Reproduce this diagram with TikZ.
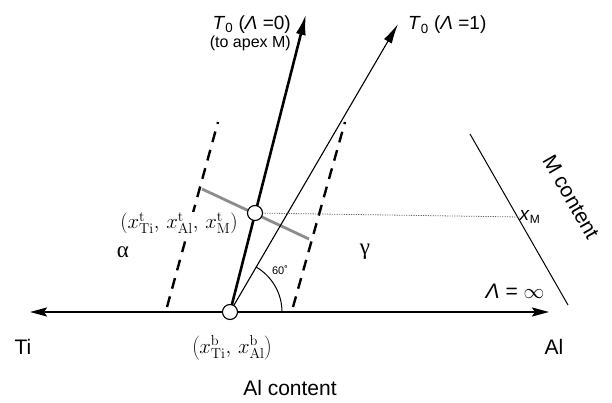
\documentclass[tikz,border=0pt]{standalone}
\usepackage[no-math]{fontspec}
\setmainfont{Liberation Sans}
\newfontfamily\greekserif{Liberation Serif}
\usetikzlibrary{arrows.meta}
\begin{document}
\begin{tikzpicture}[x=1pt,y=-1pt,
  lbl/.style={inner sep=1pt, font=\fontsize{19}{22}\selectfont},
  biglbl/.style={inner sep=1pt, font=\fontsize{21}{24}\selectfont},
  mlbl/.style={inner sep=1pt, font=\fontsize{22}{24}\selectfont},
  ptc/.style={circle, draw, fill=white, line width=1.1pt, minimum size=15pt, inner sep=0pt},
  thickarrow/.style={line width=2.6pt, -{Latex[length=21pt,width=10pt]}},
  thinarrow/.style={line width=1.1pt, -{Latex[length=20pt,width=9pt]}},
  axisline/.style={line width=2.2pt, {Stealth[length=17pt,width=9pt,inset=3pt]}-{Stealth[length=17pt,width=9pt,inset=3pt]}},
  dashline/.style={line width=2.4pt, dash pattern=on 11pt off 8pt},
  tieline/.style={line width=2.8pt, draw=black!45},
  dotline/.style={line width=0.8pt, dash pattern=on 1.2pt off 1.2pt, draw=black!60},
  plainline/.style={line width=1pt}
]
\useasboundingbox (0,0) rectangle (612,403);
% coordinates
\coordinate (bc) at (230,312);
\coordinate (tc) at (255,213);
\coordinate (Tzero) at (306,14);
\coordinate (Tone) at (398,24);
\coordinate (axL) at (30,312);
\coordinate (axR) at (549,312);
\coordinate (g1) at (202,189);
\coordinate (g2) at (309,239);
\coordinate (mc1) at (470,134);
\coordinate (mc2) at (568,305);
\coordinate (dl1) at (167,307);
\coordinate (dl2) at (218,122);
\coordinate (dr1) at (293,307);
\coordinate (dr2) at (345,122);
% dashed phase boundaries
\draw[dashline] (dl1) -- (dl2);
\draw[dashline] (dr1) -- (dr2);
% axis
\draw[axisline] (axL) -- (axR);
% M content line
\draw[plainline] (mc1) -- (mc2);
% angle arc
\draw[plainline] (bc) ++(52,0) arc[start angle=0, end angle=-60, radius=52];
% tie line
\draw[tieline] (g1) -- (g2);
% arrows
\draw[thickarrow] (bc) -- (Tzero);
\draw[thinarrow] (bc) -- (Tone);
% x_M label and dotted line
\node[lbl, inner sep=0pt] (xM) at (530,217) {\textit{x}\textsubscript{\fontsize{12}{13}\selectfont M}};
\draw[dotline] (tc) -- (xM.west);
% circles
\node[ptc] (b) at (bc) {};
\node[ptc] (t) at (tc) {};
% labels
\node[mlbl, fill=white, inner sep=0pt] (tl) at (179,223) {$\left(x^{\mathrm t}_{\mathrm{Ti}},\, x^{\mathrm t}_{\mathrm{Al}},\, x^{\mathrm t}_{\mathrm M}\right)$};
\node[mlbl] (bl) at (232,348) {$\left(x^{\mathrm b}_{\mathrm{Ti}},\, x^{\mathrm b}_{\mathrm{Al}}\right)$};
\node[biglbl] (ti) at (23,347) {Ti};
\node[biglbl] (al) at (554,347) {Al};
\node[biglbl] (alc) at (290,388) {Al content};
\node[biglbl, rotate=-60] (mct) at (571,197) {M content};
\node[lbl, anchor=east, align=right] (t0a) at (292,33) {\textit{T}\textsubscript{0} (\textit{Λ} =0)\\[-4pt]{\fontsize{16}{18}\selectfont (to apex M)}};
\node[lbl, anchor=west] (t0b) at (407,25) {\textit{T}\textsubscript{0} (\textit{Λ} =1)};
\node[biglbl, font=\fontsize{23}{26}\selectfont\greekserif] (alpha) at (123,252) {α};
\node[biglbl, font=\fontsize{23}{26}\selectfont\greekserif] (gamma) at (365,252) {γ};
\node[inner sep=1pt, font=\fontsize{11}{12}\selectfont] (ang) at (280,270) {60˚};
\node[biglbl] (linf) at (515,291) {\textit{Λ} = $\infty$};
\end{tikzpicture}
\end{document}
